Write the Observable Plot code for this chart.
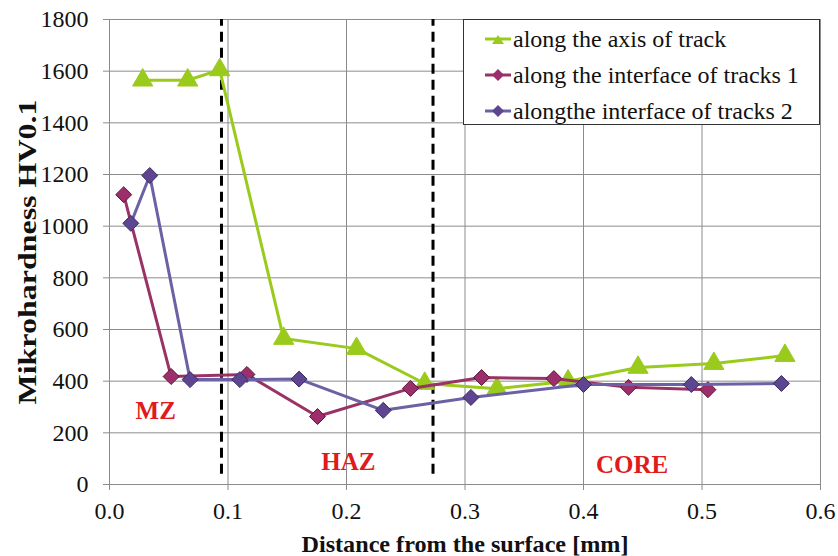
<!DOCTYPE html>
<html>
<head>
<meta charset="utf-8">
<script src="https://cdn.jsdelivr.net/npm/d3@7"></script>
<script src="https://cdn.jsdelivr.net/npm/@observablehq/plot@0.6"></script>
<style>
  html, body { margin: 0; padding: 0; background: white; }
  #wrap { position: relative; width: 838px; height: 556px; }
  #wrap svg text { font-family: "Liberation Serif", serif; }
  #legend { position: absolute; left: 463px; top: 19px; width: 355px; height: 104px;
    border: 1px solid #333; background: white; font-family: "Liberation Serif", serif; font-size: 24px; color: #111; }
  .row { position: absolute; left: 20px; height: 30px; display: flex; align-items: center; white-space: pre; }
  .row svg { margin-right: 1px; }
</style>
</head>
<body>
<div id="wrap"></div>
<script>
// ---- data ----
const seriesNames = ["along the axis of track", "along the interface of tracks 1", "alongthe interface of tracks 2"];

const axisX  = [0.028, 0.066, 0.093, 0.147, 0.2085, 0.266, 0.327, 0.387, 0.446, 0.510, 0.570];
const axisHV = [1565, 1565, 1605, 565, 526, 391, 371, 400, 453, 468, 499];

const iface1X  = [0.012, 0.052, 0.116, 0.1755, 0.254, 0.314, 0.375, 0.438, 0.505];
const iface1HV = [1122, 418, 426, 263, 372, 414, 410, 376, 367];

const iface2X  = [0.018, 0.034, 0.068, 0.110, 0.160, 0.231, 0.305, 0.400, 0.491, 0.567];
const iface2HV = [1011, 1196, 406, 406, 408, 287, 337, 387, 387, 391];

const xTicks = [0, 0.1, 0.2, 0.3, 0.4, 0.5, 0.6];
const yTicks = [0, 200, 400, 600, 800, 1000, 1200, 1400, 1600, 1800];

const boundaryX = [0.0945, 0.273];
const boundaryRange = [40, 1800];

const zoneLabels = ["MZ", "HAZ", "CORE"];
const zoneX = [0.039, 0.2015, 0.441];
const zoneY = [283, 88, 74];

const xTitle = "Distance from the surface [mm]";
const yTitle = "Mikrohardness HV0.1";

// ---- build tables ----
const toRows = (xs, ys) => xs.map((x, i) => ({x, y: ys[i]}));
const sAxis = toRows(axisX, axisHV);
const sI1 = toRows(iface1X, iface1HV);
const sI2 = toRows(iface2X, iface2HV);
const zones = zoneLabels.map((t, i) => ({t, x: zoneX[i], y: zoneY[i]}));

const GREEN = "#9ACB1C", MAG_L = "#993366", MAG_F = "#9C2E6C", PUR_L = "#6A62A4", PUR_F = "#5E4592";
const GRID = "#8c8c8c";
const FONT = "Liberation Serif";

const chart = Plot.plot({
  width: 838, height: 556,
  marginLeft: 109, marginRight: 18, marginTop: 19, marginBottom: 72,
  style: {fontFamily: FONT, fontSize: "24px", background: "white", color: "#111"},
  x: {domain: [0, 0.6]},
  y: {domain: [0, 1800]},
  marks: [
    Plot.gridX(xTicks, {stroke: GRID, strokeOpacity: 1, strokeWidth: 1}),
    Plot.gridY(yTicks, {stroke: GRID, strokeOpacity: 1, strokeWidth: 1}),
    Plot.axisX(xTicks, {tickFormat: d3.format(".1f"), tickSize: 6, tickPadding: 11, stroke: GRID, label: null, fill: "#111", fontFamily: FONT, fontSize: 24}),
    Plot.axisY(yTicks, {tickFormat: d3.format("d"), tickSize: 6, tickPadding: 15, stroke: GRID, label: null, fill: "#111", fontFamily: FONT, fontSize: 24}),
    Plot.ruleX(boundaryX, {y1: boundaryRange[0], y2: boundaryRange[1], stroke: "#000", strokeWidth: 3, strokeDasharray: "10,6"}),
    Plot.text(zones.filter(d => d.t === "CORE"), {x: "x", y: "y", text: "t", stroke: "white", strokeWidth: 22, fill: "white",
      fontWeight: "bold", fontSize: 25, fontFamily: FONT}),
    Plot.text(zones, {x: "x", y: "y", text: "t", fill: "#E01B1B", fontWeight: "bold", fontSize: 25, fontFamily: FONT}),
    Plot.line(sAxis, {x: "x", y: "y", stroke: GREEN, strokeWidth: 3}),
    Plot.dot(sAxis, {x: "x", y: "y", symbol: "triangle", r: 7.5, fill: GREEN, stroke: GREEN, strokeWidth: 1}),
    Plot.line(sI1, {x: "x", y: "y", stroke: MAG_L, strokeWidth: 3}),
    Plot.dot(sI1, {x: "x", y: "y", symbol: "diamond2", r: 7.2, fill: MAG_F, stroke: "#5a1838", strokeWidth: 1}),
    Plot.line(sI2, {x: "x", y: "y", stroke: PUR_L, strokeWidth: 3}),
    Plot.dot(sI2, {x: "x", y: "y", symbol: "diamond2", r: 7.2, fill: PUR_F, stroke: "#3a2a60", strokeWidth: 1}),
    Plot.text([yTitle], {frameAnchor: "left", dx: -82, rotate: -90, textAnchor: "middle", lineAnchor: "middle",
      fontWeight: "bold", fontSize: 25, fill: "#111", fontFamily: FONT, className: "ytitle"}),
    Plot.text([xTitle], {frameAnchor: "bottom", dy: 60, textAnchor: "middle", lineAnchor: "middle",
      fontWeight: "bold", fontSize: 24, fill: "#111", fontFamily: FONT, className: "xtitle"})
  ]
});

d3.select(chart).selectAll(".ytitle text").attr("textLength", 305).attr("lengthAdjust", "spacingAndGlyphs");
d3.select(chart).selectAll(".xtitle text").attr("textLength", 327).attr("lengthAdjust", "spacingAndGlyphs");

const wrap = document.getElementById("wrap");
wrap.appendChild(chart);

// ---- legend ----
const legend = document.createElement("div");
legend.id = "legend";
const legendStyles = [
  {stroke: GREEN, fill: GREEN, sym: "tri"},
  {stroke: MAG_L, fill: MAG_F, sym: "dia"},
  {stroke: PUR_L, fill: PUR_F, sym: "dia"}
];
seriesNames.forEach((name, i) => {
  const row = document.createElement("div");
  row.className = "row";
  row.style.top = (4 + i * 36) + "px";
  const st = legendStyles[i];
  const shape = st.sym === "tri"
    ? `<path d="M14,8 L20,17 L8,17 Z" fill="${st.fill}"/>`
    : `<path d="M14,6 L20,12 L14,18 L8,12 Z" fill="${st.fill}"/>`;
  row.innerHTML = `<svg width="28" height="24"><line x1="1" x2="27" y1="12" y2="12" stroke="${st.stroke}" stroke-width="3"/>${shape}</svg><span>${name}</span>`;
  legend.appendChild(row);
});
wrap.appendChild(legend);
</script>
</body>
</html>
